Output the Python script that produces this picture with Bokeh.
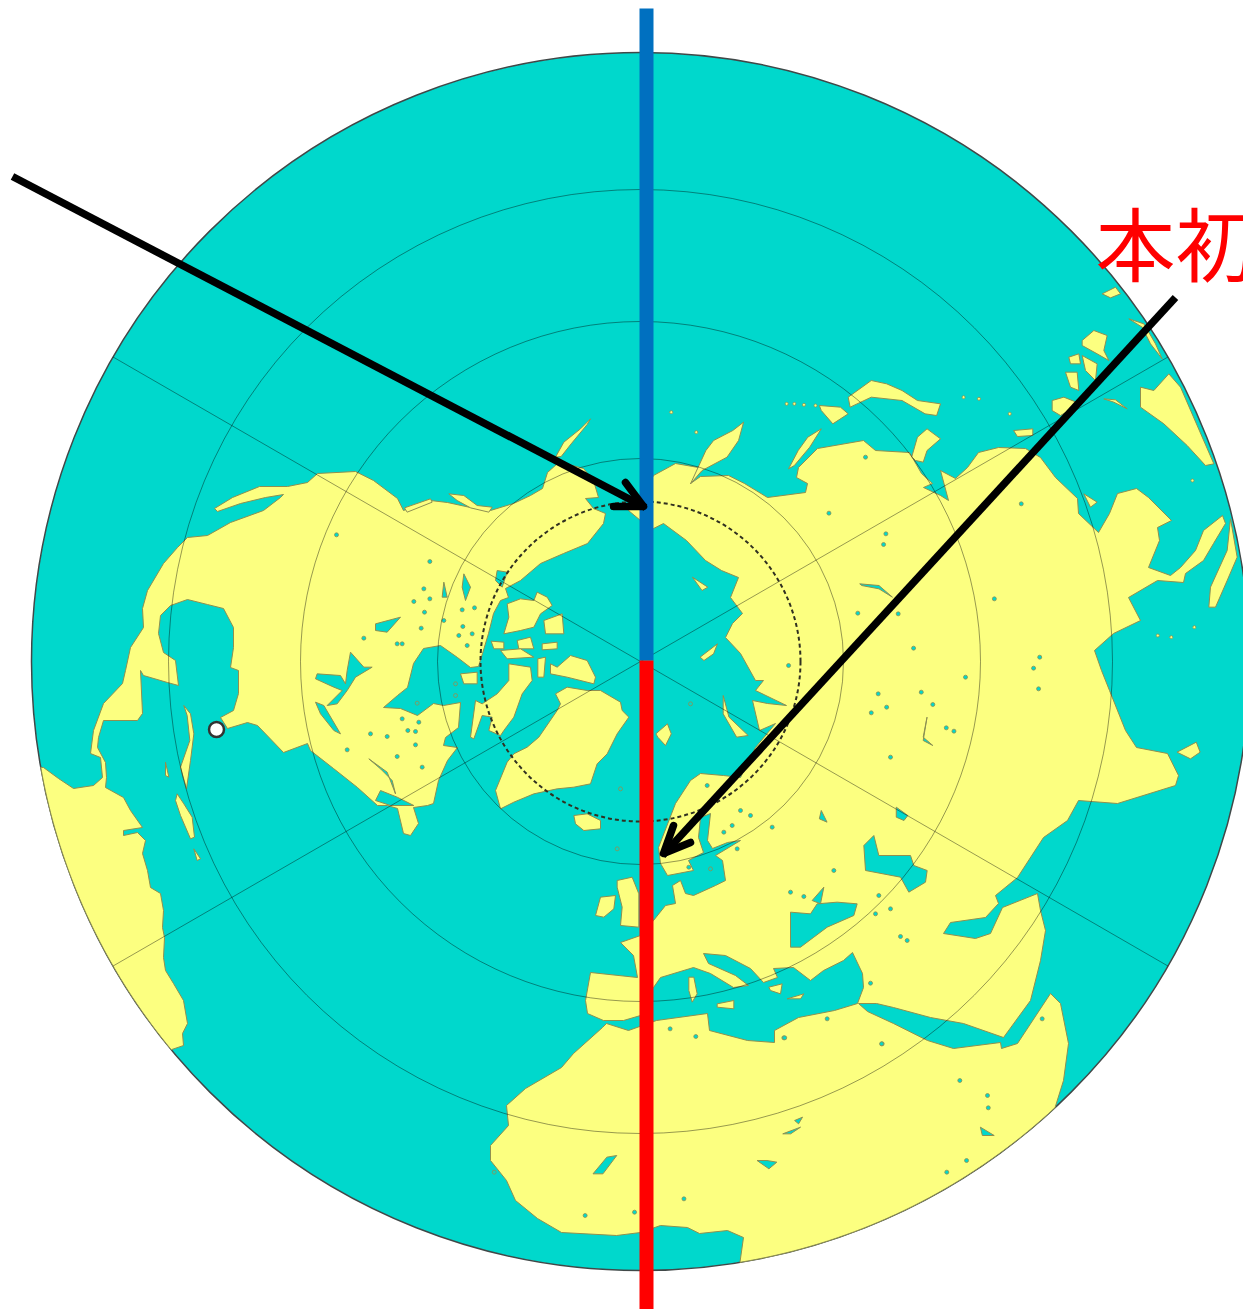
import numpy as np
from bokeh.plotting import figure
from bokeh.models import Range1d
from bokeh.core.properties import value
from bokeh.embed import file_html
from bokeh.resources import INLINE

OCEAN = "#00D8CC"
LAND = "#FCFF80"
COAST = "#8F9050"
GLOBE_X, GLOBE_Y, GLOBE_R = 640, 661, 609
RING_R = [203, 340, 472]
ARCTIC_R = 160
SPOKE_DEG = [30, 150, 210, 330]
MERIDIAN_X = 646
BLUE_Y = [8, 660]
RED_Y = [660, 1309]
MARKER = (216, 729)
LABEL = "本初"

AMERICAS_A = [(355,471),(317,473),(307,482),(287,486),(259,486),(232,497),(214,508),(217,511),(240,503),(265,497),(283,494),(280,497),(263,510),(230,522),(207,535),(187,537),(177,547),(163,563),(147,590),(142,608),(143,627),(130,647),(125,670),(122,683),(103,703),(93,730),(90,753),(100,757),(102,777),(93,785),(73,788),(58,778),(43,767)]
AMERICAS_RIM = (170, 140.4)
AMERICAS_B = [(183,1045),(182,1033),(187,1023),(183,1000),(173,983),(165,970),(163,957),(164,937),(162,927),(163,910),(160,893),(150,887),(147,870),(142,853),(145,840),(137,832),(123,835),(123,830),(142,827),(130,810),(123,797),(105,787),(106,777),(105,762),(97,747),(98,737),(103,720),(137,720),(142,713),(140,670),(143,675),(167,682),(178,685),(175,660),(163,652),(158,633),(160,615),(170,605),(187,599),(207,604),(223,608),(233,627),(233,647),(230,667),(238,670),(238,693),(233,710),(220,717),(227,728),(247,722),(257,725),(283,752),(307,743),(310,750),(333,768),(357,787),(377,805),(387,805),(397,808),(403,833),(410,835),(418,823),(413,807),(427,805),(433,803),(438,780),(447,760),(457,747),(443,745),(445,737),(458,727),(460,702),(443,705),(433,703),(417,715),(400,708),(383,707),(397,695),(407,687),(413,663),(423,648),(440,645),(457,657),(470,667),(478,666),(482,653),(488,633),(493,613),(500,600),(508,597),(505,588),(520,580),(540,563),(563,553),(587,543),(603,523),(605,513),(593,508),(585,498),(598,497),(593,480),(583,468),(572,465),(557,463),(547,472),(542,488),(530,495),(513,503),(490,510),(470,507),(447,502),(430,500),(403,510),(397,498),(373,480)]

EURASIA_A = [(628,510),(640,500),(653,475),(675,463),(698,467),(702,470),(690,483),(700,476),(728,475),(744,483),(767,497),(805,492),(807,483),(796,477),(798,467),(817,448),(863,440),(875,450),(909,452),(921,473),(932,483),(923,487),(940,495),(948,500),(940,470),(955,478),(967,467),(978,452),(998,447),(1025,448),(1040,457),(1055,477),(1077,498),(1078,513),(1098,532),(1109,513),(1117,493),(1136,488),(1148,497),(1171,520),(1157,527),(1159,540),(1148,567),(1170,575),(1180,567),(1195,550),(1203,530),(1222,515),(1225,523),(1213,543),(1203,560),(1185,573),(1183,582),(1157,580),(1128,597),(1140,620),(1113,633),(1094,650),(1101,670),(1109,690),(1125,730),(1136,747),(1167,753),(1178,775),(1175,785),(1117,803),(1078,800),(1067,820),(1043,837),(1017,877),(995,895),(998,903),(985,917),(950,922),(943,933),(975,938),(990,933),(1002,907),(1037,893),(1040,910),(1045,930),(1040,960),(1030,1000),(1003,1037),(963,1023),(930,1017),(893,1007),(876,1003),(858,1003),(867,1011),(893,1023),(927,1040),(953,1048),(1000,1042),(1001,1048),(1017,1043),(1050,993),(1060,1003),(1068,1043),(1063,1080)]
AFRICA_RIM = (47.1, 80.6)
EURASIA_B = [(743,1237),(727,1230),(699,1233),(687,1227),(660,1225),(640,1232),(616,1235),(561,1232),(537,1218),(515,1200),(506,1180),(490,1160),(490,1145),(508,1125),(506,1105),(525,1088),(561,1067),(573,1053),(602,1027),(606,1023),(628,1030),(656,1020),(707,1013),(709,1030),(747,1040),(774,1042),(774,1030),(798,1017),(834,1010),(857,1003),(863,987),(862,973),(852,952),(843,960),(823,970),(810,980),(793,967),(773,968),(777,977),(763,982),(750,968),(725,955),(703,953),(708,963),(735,975),(748,985),(733,987),(710,973),(693,967),(660,977),(653,987),(640,995),(640,1015),(623,1020),(603,1020),(587,1013),(585,1000),(590,972),(637,977),(633,955),(620,942),(640,935),(653,920),(665,905),(675,903),(672,885),(680,880),(685,893),(693,895),(715,885),(725,880),(722,860),(715,855),(740,840),(727,842),(712,848),(707,840),(710,813),(700,817),(698,837),(703,852),(688,860),(693,870),(667,875),(660,863),(658,847),(675,803),(690,780),(700,773),(723,775),(740,777),(755,747),(775,723),(759,730),(752,700),(767,703),(786,705),(755,690),(763,680),(755,680),(740,653),(725,637),(732,623),(742,613),(730,597),(738,577),(721,570),(705,560),(686,540),(663,523),(653,528),(640,520)]

CROP_A = (300, 400, 3.0, 3.0)
ISLANDS_A = [
 [(585,1170),(620,1085),(640,1060),(680,1040),(715,1010),(770,930),(780,910),(765,880),(800,860),(860,870),(900,870),(960,905),(965,930),(985,950),(950,1000),(920,1060),(890,1090),(870,1150),(820,1160),(770,1165),(700,1180),(640,1205),(600,1225)],
 [(820,1245),(860,1240),(900,1260),(900,1285),(850,1290),(825,1270)],
 [(620,610),(660,595),(700,600),(710,575),(740,590),(755,615),(720,640),(700,680),(660,690),(610,700),(625,650)],
 [(510,1010),(525,900),(545,910),(590,880),(625,840),(625,790),(690,800),(695,840),(665,880),(640,950),(610,990),(600,1005),(565,990),(575,950),(545,945),(520,1015)],
 [(750,790),(770,800),(810,765),(860,780),(885,830),(880,850),(800,830),(750,820)],
 [(650,720),(690,710),(700,745),(655,745)],
 [(730,660),(785,640),(790,700),(735,700)],
 [(712,775),(735,770),(730,830),(712,830)],
 [(480,820),(530,815),(530,850),(490,850)],
 [(725,730),(770,725),(770,745),(725,748)],
 [(572,722),(610,725),(610,745),(580,745)],
 [(600,750),(660,745),(700,770),(620,775)],
 [(765,170),(790,125),(840,85),(870,55),(860,72),(812,130),(782,168)],
 [(445,280),(490,285),(530,315),(575,320),(565,335),(510,322),(470,300)],
 [(312,322),(390,295),(395,305),(320,335)],
]
CROP_B = (640, 370, 2.6, 3.0)
ISLANDS_B = [
 [(150,290),(170,240),(190,210),(240,180),(268,155),(255,210),(225,260),(160,300),(130,340)],
 [(385,295),(410,240),(435,200),(470,175),(440,230),(400,285)],
 [(465,105),(520,110),(540,130),(500,160),(470,120)],
 [(540,80),(600,30),(640,40),(680,60),(720,90),(780,100),(770,135),(740,130),(680,90),(600,80),(545,110)],
 [(705,260),(720,200),(745,175),(780,205),(745,240),(735,275),(715,270)],
 [(970,180),(1020,175),(1020,195),(980,198)],
 [(1395,1145),(1445,1115),(1455,1145),(1430,1165)],
 [(40,1090),(70,1060),(80,1090),(65,1125),(45,1100)],
 [(215,975),(230,1040),(280,1095),(250,1100),(215,1030)],
 [(155,860),(200,820),(190,850),(165,870)],
 [(135,620),(175,650),(160,660)],
]
CROP_C = (1040, 190, 3.0, 3.0)
ISLANDS_C = [
 [(125,450),(160,420),(200,435),(190,480),(205,510),(170,490),(125,465)],
 [(85,500),(115,490),(120,520),(90,520)],
 [(125,495),(170,520),(165,570),(135,540)],
 [(75,545),(110,545),(115,600),(90,590)],
 [(35,630),(70,620),(120,640),(60,675),(35,660)],
 [(300,590),(340,600),(385,550),(420,590),(520,820),(495,825),(440,765),(370,700),(300,650)],
 [(265,385),(310,400),(345,460),(365,505),(330,460),(305,410)],
 [(190,625),(225,628),(260,655),(220,635)],
 [(130,910),(170,935),(150,950)],
 [(505,1250),(510,1190),(560,1080),(570,985),(590,1100),(560,1170),(525,1250)],
 [(185,310),(225,290),(240,310),(210,322)],
]
CROP_D = (560, 760, 3.0, 3.0)
ISLANDS_D = [
 [(170,360),(215,350),(235,400),(235,500),(180,495),(185,440),(170,380)],
 [(105,465),(120,410),(165,405),(160,445),(130,470)],
 [(385,650),(400,650),(410,700),(395,725),(385,690)],
 [(470,730),(520,720),(520,745),(470,740)],
 [(680,715),(730,700),(720,715)],
 [(625,680),(665,670),(660,700),(630,690)],
]
CROP_E = (30, 400, 3.0, 3.0)
ISLANDS_E = [
 [(460,915),(480,940),(490,1000),(480,1080),(468,1165),(450,1100),(478,1020),(470,945)],
 [(405,1085),(415,1130),(405,1125)],
]
CROP_F = (30, 760, 3.0, 3.0)
ISLANDS_F = [
 [(440,100),(460,130),(485,170),(492,230),(480,235),(450,165),(435,120)],
 [(490,265),(510,295),(500,300)],
]
ISLETS_B = [(380,100),(400,100),(425,103),(455,105),(840,80),(880,85),(80,125),(145,185),(960,130),(1435,330),(1345,795),(1380,800),(1440,770)]

WATER_D = [
 [(690,455),(750,460),(770,430),(830,425),(890,430),(880,465),(800,500),(760,530),(720,560),(690,560)],
 [(755,420),(790,380),(780,430)],
 [(910,255),(940,225),(955,285),(1050,285),(1060,315),(1100,330),(1095,365),(1045,395),(1020,350),(915,330)],
]
WATER_A = [
 [(150,755),(190,800),(215,800),(165,830),(140,870),(110,910),(80,915),(125,870),(100,860),(45,835),(50,820),(120,825),(135,850),(140,810)],
 [(225,670),(300,650),(260,695),(225,690)],
 [(490,520),(510,560),(495,600),(485,560)],
 [(430,545),(440,590),(425,590)],
 [(45,905),(70,915),(120,1000),(100,990),(60,940)],
 [(205,1075),(260,1115),(285,1180),(275,1140),(240,1105)],
 [(240,1170),(290,1190),(340,1215),(270,1215),(225,1200)],
 [(590,510),(620,515),(605,560),(585,540)],
]
WATER_B = [
 [(570,640),(620,645),(655,680),(620,655),(575,645)],
 [(665,1310),(695,1335),(685,1350),(665,1340)],
 [(745,1040),(735,1110),(760,1125),(735,1100)],
 [(470,1320),(485,1355),(465,1345)],
]
CROP_G = (470, 1000, 2.53, 3.0)
WATER_G = [
 [(310,520),(345,470),(370,465),(335,520)],
 [(725,480),(750,480),(775,485),(755,505)],
 [(790,400),(835,380),(810,400)],
 [(820,360),(840,350),(830,370)],
 [(1290,380),(1325,405),(1295,405)],
]
PONDS_A = [(108,403),(388,483),(370,565),(340,603),(388,595),(372,635),(362,683),(190,713),(290,730),(305,730),(430,660),(487,678),(485,628),(522,622),(515,700),(500,735),(475,705),(305,955),(355,965),(322,990),(345,993),(210,1000),(260,1008),(345,1033),(290,1068),(365,1100),(140,1048),(465,850),(465,885),(350,908)]
PONDS_B = [(490,428),(585,260),(638,490),(632,522),(565,728),(670,730),(710,833),(618,970),(730,965),(600,1027),(760,1002),(640,1010),(920,685),(1022,893),(1038,860),(1035,955),(845,920),(650,1160),(795,1072),(815,1082),(990,400),(385,885),(130,1000)]
PONDS_D = [(820,330),(690,395),(730,408),(955,405),(945,460),(990,445),(1020,528),(1040,540),(930,668),(800,775),(670,832),(965,850),(1445,775),(440,75),(540,150),(570,165),(515,195),(490,215),(530,265),(385,320),(450,325),(180,85),(170,265),(635,200)]
PONDS_G = [(505,85),(570,108),(795,112),(1040,130),(1238,240),(1308,285),(1310,322),(1205,515),(1255,480),(540,595),(60,515),(290,645),(415,635)]

ARROW_SHAFTS_X = [[12, 645], [1175, 662]]
ARROW_SHAFTS_Y = [[176, 507], [297, 855]]
ARROW_BARBS_X = [[625, 643, 613], [673, 663, 690]]
ARROW_BARBS_Y = [[482, 506, 506], [825, 853, 842]]


def crop(points, c):
    return [(c[0] + a / c[2], c[1] + b / c[3]) for a, b in points]


def rim(a0, a1, n=40):
    t = np.radians(np.linspace(a0, a1, n))
    return list(zip(GLOBE_X + GLOBE_R * np.cos(t), GLOBE_Y + GLOBE_R * np.sin(t)))


def draw(p, polys, fill):
    xs = [[q[0] for q in poly] for poly in polys]
    ys = [[q[1] for q in poly] for poly in polys]
    p.patches(xs, ys, fill_color=fill, line_color=COAST, line_width=1)


p = figure(width=1243, height=1309, x_range=Range1d(0, 1243), y_range=Range1d(1309, 0),
           output_backend="svg", toolbar_location=None, min_border=0,
           background_fill_color="white", border_fill_color="white", outline_line_color=None)
p.axis.visible = False
p.xgrid.visible = False
p.ygrid.visible = False

p.ellipse([GLOBE_X], [GLOBE_Y], width=2 * GLOBE_R, height=2 * GLOBE_R,
          fill_color=OCEAN, line_color="#404848", line_width=1.5)

americas = AMERICAS_A + rim(*AMERICAS_RIM) + AMERICAS_B
eurasia = EURASIA_A + rim(*AFRICA_RIM) + EURASIA_B
lands = [americas, eurasia]
for group, c in [(ISLANDS_A, CROP_A), (ISLANDS_B, CROP_B), (ISLANDS_C, CROP_C),
                 (ISLANDS_D, CROP_D), (ISLANDS_E, CROP_E), (ISLANDS_F, CROP_F)]:
    lands += [crop(g, c) for g in group]
draw(p, lands, LAND)

islets = crop(ISLETS_B, CROP_B)
p.scatter([q[0] for q in islets], [q[1] for q in islets], size=3, marker="circle",
          fill_color=LAND, line_color=COAST, line_width=0.8)

waters = []
for group, c in [(WATER_D, CROP_D), (WATER_A, CROP_A), (WATER_B, CROP_B), (WATER_G, CROP_G)]:
    waters += [crop(g, c) for g in group]
draw(p, waters, OCEAN)

ponds = crop(PONDS_A, CROP_A) + crop(PONDS_B, CROP_B) + crop(PONDS_D, CROP_D) + crop(PONDS_G, CROP_G)
p.scatter([q[0] for q in ponds], [q[1] for q in ponds], size=4, marker="circle",
          fill_color=OCEAN, line_color=COAST, line_width=0.8)

p.ellipse([GLOBE_X] * len(RING_R), [GLOBE_Y] * len(RING_R),
          width=[2 * r for r in RING_R], height=[2 * r for r in RING_R],
          fill_color=None, line_color="black", line_alpha=0.4, line_width=1)
t = np.radians(SPOKE_DEG)
p.segment([GLOBE_X] * len(t), [GLOBE_Y] * len(t),
          GLOBE_X + GLOBE_R * np.cos(t), GLOBE_Y + GLOBE_R * np.sin(t),
          line_color="black", line_alpha=0.4, line_width=1)
p.ellipse([GLOBE_X], [GLOBE_Y], width=2 * ARCTIC_R, height=2 * ARCTIC_R,
          fill_color=None, line_color="#303020", line_width=2, line_dash="4 3")

p.segment([MERIDIAN_X], [BLUE_Y[0]], [MERIDIAN_X], [BLUE_Y[1]], line_color="#0070C0", line_width=14)
p.segment([MERIDIAN_X], [RED_Y[0]], [MERIDIAN_X], [RED_Y[1]], line_color="#FF0000", line_width=14)

p.scatter([MARKER[0]], [MARKER[1]], size=15, marker="circle",
          fill_color="white", line_color="#333333", line_width=2.5)

p.multi_line(ARROW_SHAFTS_X, ARROW_SHAFTS_Y, line_color="black", line_width=7.5)
p.multi_line(ARROW_BARBS_X, ARROW_BARBS_Y, line_color="black", line_width=7.5,
             line_cap="round", line_join="round")

p.text([1095], [239], text=[LABEL], text_color="#FF0000", text_font=value("Noto Sans CJK JP"),
       text_font_size="80px", text_baseline="alphabetic", text_align="left")

open("out.html", "w").write(file_html(p, INLINE))
